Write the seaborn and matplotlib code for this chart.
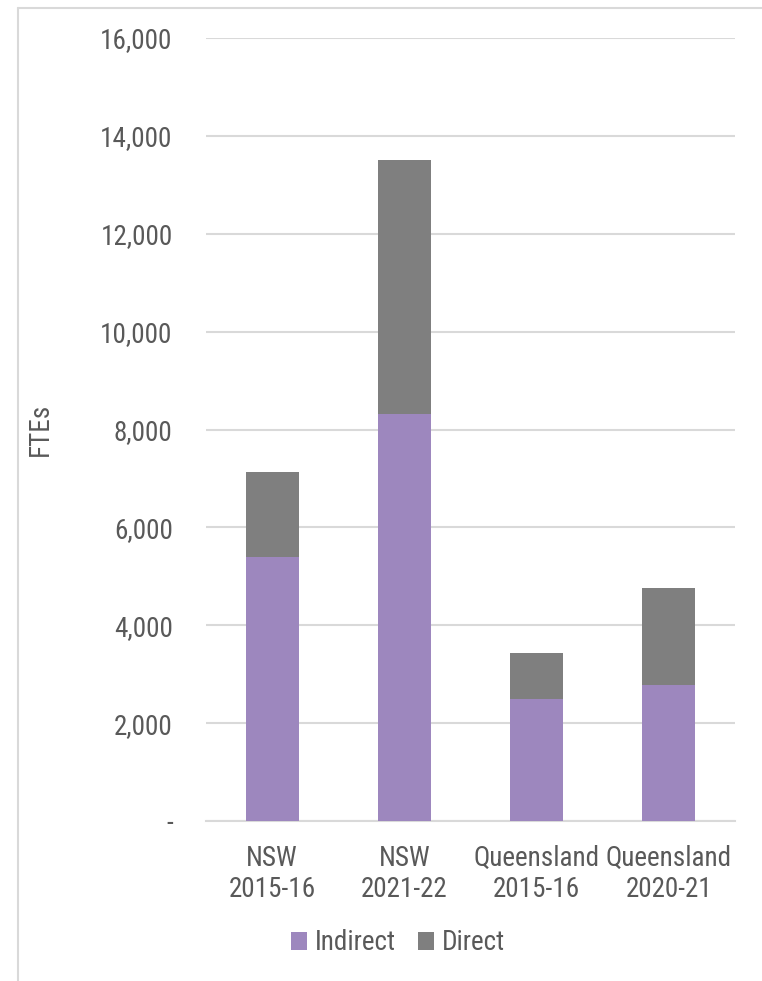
import matplotlib
matplotlib.use("Agg")
import matplotlib.pyplot as plt
from matplotlib.ticker import FuncFormatter
from matplotlib.patches import Patch
from matplotlib.lines import Line2D
import seaborn as sns
import pandas as pd

# FTE estimates by state and year
categories = ["NSW\n2015-16", "NSW\n2021-22", "Queensland\n2015-16", "Queensland\n2020-21"]
indirect = [5390, 8310, 2490, 2775]
direct = [1750, 5200, 940, 1980]
y_ticks = list(range(0, 16001, 2000))

PURPLE = "#9D87BE"
GREY = "#7F7F7F"
TEXT = "#595959"
GRID = "#D9D9D9"
FS = 19.5

sns.set_theme(style="white")
plt.rcParams["font.family"] = ["Roboto Condensed", "Liberation Sans", "DejaVu Sans"]

df = pd.DataFrame({"category": categories, "Indirect": indirect, "Direct": direct})
df["total"] = df["Indirect"] + df["Direct"]

W, H = 762, 981
fig = plt.figure(figsize=(W / 100, H / 100), dpi=100)
ax = fig.add_axes([206 / W, 1 - 821 / H, (735 - 206) / W, (821 - 38) / H])

# stacked bars: full height in grey (Direct on top), Indirect overlaid from zero
sns.barplot(data=df, x="category", y="total", color=GREY, width=0.4,
            saturation=1, linewidth=0, ax=ax, zorder=3)
sns.barplot(data=df, x="category", y="Indirect", color=PURPLE, width=0.4,
            saturation=1, linewidth=0, ax=ax, zorder=4)

ax.set_ylim(0, 16000)
ax.set_xlim(-0.5, 3.5)
ax.set_yticks(y_ticks)
ax.yaxis.set_major_formatter(FuncFormatter(lambda v, p: "-" if v == 0 else f"{int(v):,}"))
ax.yaxis.grid(True, color=GRID, linewidth=1.5, zorder=0)
ax.set_axisbelow(True)
for s in ["top", "right", "left"]:
    ax.spines[s].set_visible(False)
ax.spines["bottom"].set_color(GRID)
ax.spines["bottom"].set_linewidth(1.5)

ax.tick_params(axis="y", length=0, pad=24, labelsize=FS, labelcolor=TEXT)
ax.tick_params(axis="x", length=0, pad=17, labelsize=FS, labelcolor=TEXT)
ax.set_xlabel("")
ax.set_ylabel("FTEs", fontsize=FS, color=TEXT)
ax.yaxis.set_label_coords((40 - 206) / (735 - 206), 0.5)
ax.yaxis.label.set_va("center")

handles = [Patch(facecolor=PURPLE, edgecolor="none", label="Indirect"),
           Patch(facecolor=GREY, edgecolor="none", label="Direct")]
leg = fig.legend(handles=handles, loc="center", bbox_to_anchor=(398 / W, 1 - 943 / H),
                 ncol=2, frameon=False, fontsize=FS, handlelength=0.6,
                 handleheight=0.6, handletextpad=0.3, columnspacing=0.8)
for t in leg.get_texts():
    t.set_color(TEXT)

# chart frame edge along the top and left
fig.add_artist(Line2D([18 / W, 18 / W], [0, 1 - 8 / H], color=GRID, linewidth=1.5))
fig.add_artist(Line2D([18 / W, 1], [1 - 8 / H, 1 - 8 / H], color=GRID, linewidth=1.5))

fig.savefig("out.png", dpi=100)
